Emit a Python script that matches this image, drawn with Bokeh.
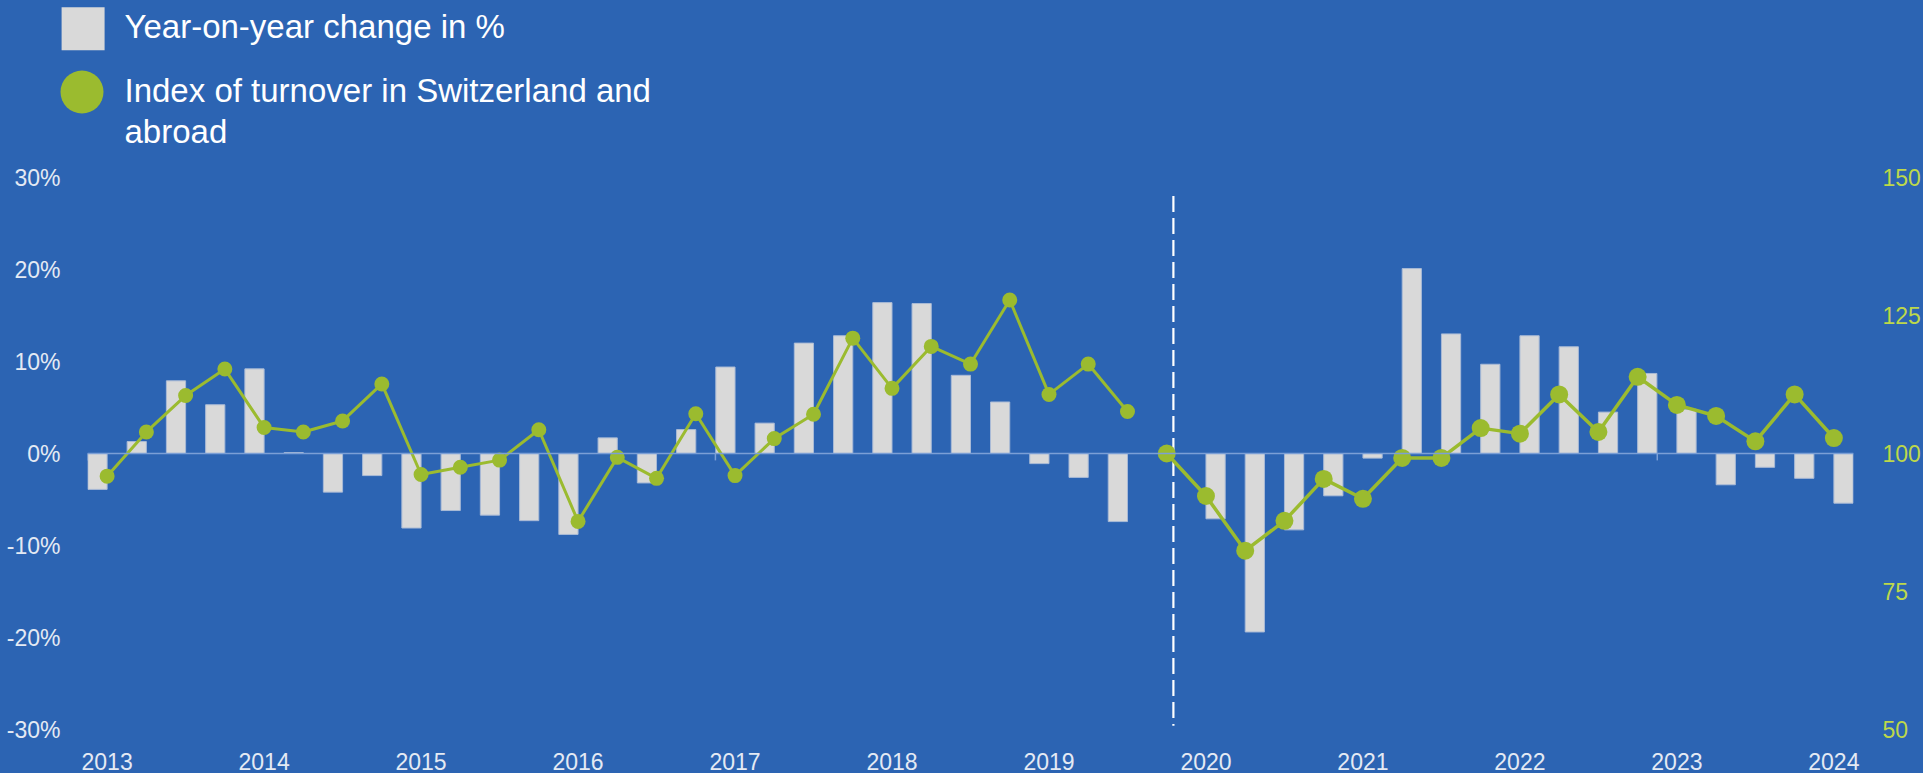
from bokeh.plotting import figure
from bokeh.models import Range1d, LinearAxis, FixedTicker, Span, PrintfTickFormatter
from bokeh.layouts import column
from bokeh.embed import file_html
from bokeh.resources import INLINE
from bokeh.core.properties import value

# ---------------- data ----------------
YEARS = list(range(2013, 2025))
# Year-on-year change in %, old base (2013 Q1 .. 2019 Q3)
yoy_old = [-3.9, 1.3, 7.9, 5.3, 9.2, 0.1, -4.2, -2.4,
           -8.1, -6.2, -6.7, -7.3, -8.8, 1.7, -3.2, 2.6,
           9.4, 3.3, 12.0, 12.8, 16.4, 16.3, 8.5, 5.6,
           -1.1, -2.6, -7.4]
# Index of turnover, old base (2013 Q1 .. 2019 Q3)
index_old = [95.9, 103.9, 110.5, 115.3, 104.7, 103.9, 105.9, 112.6,
             96.2, 97.5, 98.8, 104.3, 87.7, 99.3, 95.5, 107.2,
             96.0, 102.7, 107.1, 120.9, 111.8, 119.4, 116.2, 127.8,
             110.7, 116.2, 107.6]
# Index of turnover, new base (2019 Q4 = 100 .. 2024 Q1)
index_new = [100.0, 92.3, 82.4, 87.8, 95.4, 91.8, 99.2, 99.2,
             104.6, 103.6, 110.7, 103.9, 113.9, 108.8, 106.8, 102.2,
             110.7, 102.8]
# Year-on-year change in %, new base (2020 Q1 .. 2024 Q1)
yoy_new = [-7.1, -19.4, -8.3, -4.6, -0.5, 20.1, 13.0, 9.7,
           12.8, 11.6, 4.5, 8.7, 4.8, -3.4, -1.5, -2.7, -5.4]

PCT_TICKS = [-30, -20, -10, 0, 10, 20, 30]
INDEX_TICKS = [50, 75, 100, 125, 150]
AXIS_MARKS = [-0.5, 15.5, 39.5]   # small tick marks on the zero line
LEGEND_LABELS = ["Year-on-year change in %",
                 "Index of turnover in Switzerland and", "abroad"]

# ---------------- styles ----------------
BLUE = "#2c64b3"
BAR = "#d9d9d9"
BAR_EDGE = "#a9bad6"
GREEN = "#9bbb2f"
GREEN_TXT = "#bdd84a"
TXT = "#e4eaf4"
ZERO = "#7b9fd6"
FONT = "Liberation Sans"

n_old = len(index_old)
start_new = n_old
x_idx_old = list(range(n_old))
x_idx_new = list(range(start_new, start_new + len(index_new)))
x_yoy_old = [i - 0.245 for i in range(len(yoy_old))]
x_yoy_new = [i + 0.245 for i in range(start_new + 1, start_new + 1 + len(yoy_new))]
n_cat = start_new + len(index_new)
year_ticks = [4 * k for k in range(len(YEARS))]
BREAK_X = start_new + 0.17

W = 1923
LEG_H = 150
CH_H = 773 - LEG_H

# ---------------- legend strip (1 data unit = 1 px, y measured upward) ----------------
leg = figure(width=W, height=LEG_H, x_range=Range1d(0, W), y_range=Range1d(0, LEG_H),
             output_backend="svg", toolbar_location=None, min_border=0,
             x_axis_location=None, y_axis_location=None)
leg.frame_align = False
leg.styles = {"background-color": BLUE}
leg.grid.visible = False
leg.outline_line_color = None
leg.background_fill_color = None
leg.border_fill_color = None
leg.rect(x=[82.6], y=[LEG_H - 28.3], width=43, height=43, fill_color=BAR, line_color=None)
leg.scatter(x=[81.5], y=[LEG_H - 91.5], size=43, marker="circle", fill_color=GREEN, line_color=None)
leg.text(x=[124, 124, 124], y=[LEG_H - 26.2, LEG_H - 90.2, LEG_H - 131.2], text=LEGEND_LABELS,
         text_font=value(FONT), text_font_size="33px", text_color="white",
         text_baseline="alphabetic", text_align="left")

# ---------------- chart ----------------
p = figure(width=W, height=CH_H, x_range=Range1d(-0.5, n_cat - 0.5), y_range=Range1d(-30, 30),
           output_backend="svg", toolbar_location=None,
           min_border_left=87, min_border_right=66, min_border_top=177 - LEG_H, min_border_bottom=44)
p.frame_align = False
p.styles = {"background-color": BLUE}
p.grid.visible = False
p.outline_line_color = None
p.background_fill_color = BLUE
p.border_fill_color = None
p.extra_y_ranges = {"idx": Range1d(50, 150)}

p.add_layout(Span(location=0, dimension="width", line_color=ZERO, line_width=1.5))
p.segment(x0=AXIS_MARKS, y0=[0] * len(AXIS_MARKS), x1=AXIS_MARKS, y1=[-0.75] * len(AXIS_MARKS),
          line_color=ZERO, line_width=1.5)

p.vbar(x=x_yoy_old, top=yoy_old, bottom=0, width=0.49, fill_color=BAR, line_color=BAR_EDGE, line_width=1)
p.vbar(x=x_yoy_new, top=yoy_new, bottom=0, width=0.49, fill_color=BAR, line_color=BAR_EDGE, line_width=1)

p.segment(x0=[BREAK_X], y0=[28.0], x1=[BREAK_X], y1=[-29.6], line_color="white",
          line_width=2.2, line_dash="16 6")

p.line(x_idx_old, index_old, y_range_name="idx", line_color=GREEN, line_width=3)
p.scatter(x_idx_old, index_old, y_range_name="idx", size=15, marker="circle",
          fill_color=GREEN, line_color=None)
p.line(x_idx_new, index_new, y_range_name="idx", line_color=GREEN, line_width=3.5)
p.scatter(x_idx_new, index_new, y_range_name="idx", size=18, marker="circle",
          fill_color=GREEN, line_color=None)

# left axis
ya = p.yaxis[0]
ya.ticker = FixedTicker(ticks=PCT_TICKS)
ya.formatter = PrintfTickFormatter(format="%d%%")
ya.axis_line_color = None
ya.major_tick_line_color = None
ya.minor_tick_line_color = None
ya.major_label_standoff = 21
ya.major_label_text_font = FONT
ya.major_label_text_font_size = "23px"
ya.major_label_text_color = TXT

# right axis
ra = LinearAxis(y_range_name="idx", ticker=FixedTicker(ticks=INDEX_TICKS))
ra.axis_line_color = None
ra.major_tick_line_color = None
ra.minor_tick_line_color = None
ra.major_label_standoff = 23
ra.major_label_text_font = FONT
ra.major_label_text_font_size = "23px"
ra.major_label_text_color = GREEN_TXT
p.add_layout(ra, "right")

# bottom axis
xa = p.xaxis[0]
xa.ticker = FixedTicker(ticks=year_ticks)
xa.major_label_overrides = {t: str(y) for t, y in zip(year_ticks, YEARS)}
xa.axis_line_color = None
xa.major_tick_line_color = None
xa.minor_tick_line_color = None
xa.major_label_standoff = 17
xa.major_label_text_font = FONT
xa.major_label_text_font_size = "23px"
xa.major_label_text_color = TXT

layout = column(leg, p, spacing=0)
layout.styles = {"background-color": BLUE}
open("out.html", "w").write(file_html(layout, INLINE))
